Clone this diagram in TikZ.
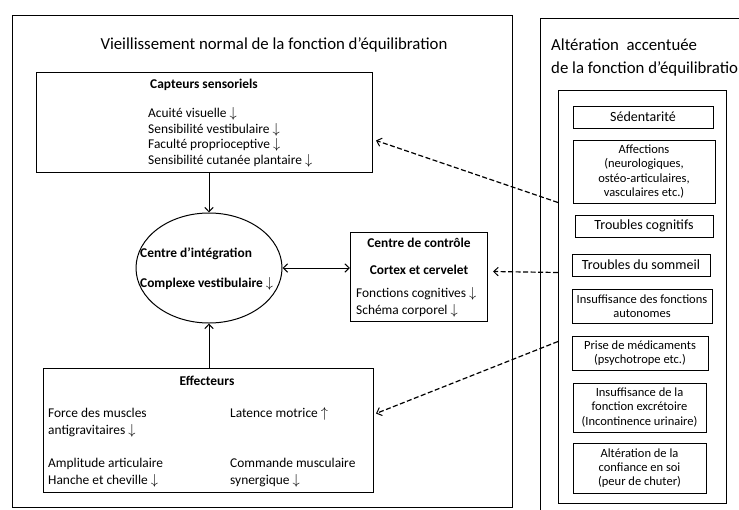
\documentclass[tikz,border=0pt]{standalone}
\usepackage{fontspec}
\setmainfont{Carlito}
\usetikzlibrary{arrows.meta,shapes.geometric}
\newcommand\dnar{\ $\downarrow$}
\newcommand\upar{\ $\uparrow$}
\begin{document}
\begin{tikzpicture}[x=1pt,y=-1pt,
  frame/.style={draw, line width=1pt, inner sep=0pt, anchor=north west},
  cbox/.style={draw, line width=1pt, inner sep=1pt, align=center},
  ttl/.style={font=\fontsize{16.8}{20}\selectfont, inner sep=0pt, anchor=base},
  lbl/.style={font=\fontsize{13.4}{16}\selectfont, inner sep=0pt, anchor=base west},
  hd/.style={font=\bfseries\fontsize{13.4}{16}\selectfont, inner sep=0pt, anchor=base},
  big/.style={font=\fontsize{14}{16}\selectfont},
  small/.style={font=\fontsize{12.5}{14.3}\selectfont},
  tip/.tip={Straight Barb[length=4.5pt,width=8.5pt,line width=1pt]},
  solidarr/.style={line width=1pt, -tip},
  dblarr/.style={line width=1pt, tip-tip},
  dasharr/.style={line width=1.2pt, dash pattern=on 5pt off 2.5pt, -tip}]
\useasboundingbox (0,0) rectangle (739,509);
\clip (0,0) rectangle (739,509);

% left panel: normal ageing
\node[frame, minimum width=500pt, minimum height=492pt] (left) at (12,15) {};
\node[ttl] (ltitle) at (274,49.5) {Vieillissement normal de la fonction d’équilibration};

% sensory receptors
\node[frame, minimum width=336pt, minimum height=100pt] (capt) at (36,72) {};
\node[hd] (capth) at (204,88.5) {Capteurs sensoriels};
\node[lbl] (capt1) at (148,117.5) {Acuité visuelle\dnar};
\node[lbl] (capt2) at (148,133) {Sensibilité vestibulaire\dnar};
\node[lbl] (capt3) at (148,148.5) {Faculté proprioceptive\dnar};
\node[lbl] (capt4) at (148,164) {Sensibilité cutanée plantaire\dnar};

% integration centre
\node[draw, line width=1pt, ellipse, minimum width=146pt, minimum height=110pt, inner sep=0pt] (ell) at (209,268) {};
\node[hd, anchor=base west] (ell1) at (140,257.5) {Centre d’intégration};
\node[hd, anchor=base west] (ell2) at (140,287.5) {Complexe vestibulaire\dnar};

% control centre
\node[frame, minimum width=137pt, minimum height=89pt] (ctrl) at (350,232) {};
\node[hd] (ctrl1) at (419,247.5) {Centre de contrôle};
\node[hd] (ctrl2) at (419,274.5) {Cortex et cervelet};
\node[lbl] (ctrl3) at (356,297) {Fonctions cognitives\dnar};
\node[lbl] (ctrl4) at (356,314) {Schéma corporel\dnar};

% effectors
\node[frame, minimum width=330pt, minimum height=124pt] (eff) at (43,368) {};
\node[hd] (effh) at (207,385.5) {Effecteurs};
\node[lbl] (eff1) at (48,417.5) {Force des muscles};
\node[lbl] (eff2) at (48,434.5) {antigravitaires\dnar};
\node[lbl] (eff3) at (48,467.5) {Amplitude articulaire};
\node[lbl] (eff4) at (48,484.5) {Hanche et cheville\dnar};
\node[lbl] (eff5) at (230,417.5) {Latence motrice\upar};
\node[lbl] (eff6) at (230,467.5) {Commande musculaire};
\node[lbl] (eff7) at (230,484.5) {synergique\dnar};

% right panel: marked impairment
\draw[line width=1pt] (540,515) -- (540,18) -- (760,18);
\node[ttl, anchor=base west] (rtitle1) at (551,50.5) {Altération\ \ accentuée};
\node[ttl, anchor=base west] (rtitle2) at (551,73.5) {de la fonction d’équilibration};
\node[frame, minimum width=168pt, minimum height=413pt] (rin) at (558,90) {};

\node[cbox, big, minimum width=140pt, minimum height=22pt] (sed) at (643,117) {Sédentarité};
\node[cbox, small, minimum width=142pt, minimum height=63pt] (aff) at (644,171.5) {Affections\\(neurologiques,\\ostéo-articulaires,\\vasculaires etc.)};
\node[cbox, big, minimum width=138pt, minimum height=22pt] (cog) at (644,226) {Troubles cognitifs};
\node[cbox, big, minimum width=138pt, minimum height=22pt] (som) at (641,265) {Troubles du sommeil};
\node[cbox, small, minimum width=140pt, minimum height=34pt] (auto) at (642,306) {Insuffisance des fonctions\\autonomes};
\node[cbox, small, minimum width=136pt, minimum height=34pt] (med) at (640,353) {Prise de médicaments\\(psychotrope etc.)};
\node[cbox, small, minimum width=133pt, minimum height=49pt] (excr) at (639.5,407.5) {Insuffisance de la\\fonction excrétoire\\(Incontinence urinaire)};
\node[cbox, small, minimum width=133pt, minimum height=50pt] (conf) at (639.5,468) {Altération de la\\confiance en soi\\(peur de chuter)};

% connectors
\draw[solidarr] (ell.north |- capt.south) -- (ell.north);
\draw[solidarr] (ell.south |- eff.north) -- (ell.south);
\draw[dblarr] (ell.east) -- (ctrl.west |- ell.east);
\draw[dasharr] ([yshift=94.5pt]rin.west) -- ([xshift=3pt,yshift=-18pt]capt.east);
\draw[dasharr] ([yshift=24.5pt]rin.west) -- ([xshift=5pt,yshift=5.5pt]ctrl.east);
\draw[dasharr] ([yshift=-44.5pt]rin.west) -- ([xshift=2pt,yshift=17pt]eff.east);
\end{tikzpicture}
\end{document}
